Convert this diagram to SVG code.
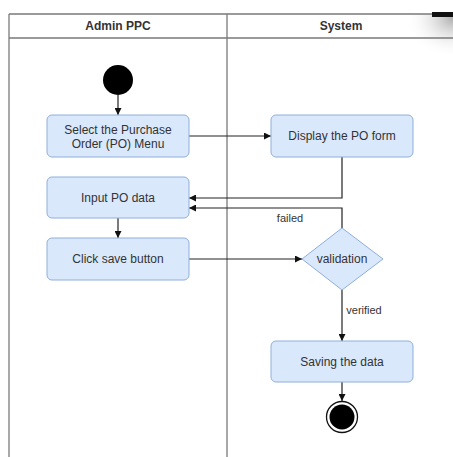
<svg xmlns="http://www.w3.org/2000/svg" width="453" height="457" viewBox="0 0 453 457">
<defs>
<style>
.lane{fill:none;stroke:#7a7a7a;stroke-width:1.3}
.hdr{font-family:"Liberation Sans",Arial,sans-serif;font-size:12px;font-weight:bold;fill:#333;text-anchor:middle}
.act{fill:#dae8fc;stroke:#8faedc;stroke-width:1}
.lbl{font-family:"Liberation Sans",Arial,sans-serif;font-size:12px;fill:#333;text-anchor:middle}
.small{font-family:"Liberation Sans",Arial,sans-serif;font-size:11px;fill:#333;text-anchor:middle}
.edge{fill:none;stroke:#222;stroke-width:1.2}
</style>
<marker id="ah" viewBox="0 0 10 10" refX="10" refY="5" markerWidth="7" markerHeight="7" orient="auto" markerUnits="userSpaceOnUse">
<path d="M0,0 L10,5 L0,10 z" fill="#111"/>
</marker>
<radialGradient id="shade" cx="1" cy="0.1" r="1">
<stop offset="0" stop-color="#9a9a9a" stop-opacity="0.8"/>
<stop offset="1" stop-color="#ffffff" stop-opacity="0"/>
</radialGradient>
</defs>
<rect x="0" y="0" width="453" height="457" fill="#fff"/>
<rect x="405" y="14" width="48" height="40" fill="url(#shade)"/>
<g id="swimlanes">
<path class="lane" d="M9,14 H432 M9,38 H453 M9,14 V457 M227,14 V457"/>
<rect x="432" y="12" width="21" height="5" fill="#111"/>
<text class="hdr" x="118" y="30">Admin PPC</text>
<text class="hdr" x="341" y="30">System</text>
</g>
<g id="connectors">
<path class="edge" d="M118,95 V115" marker-end="url(#ah)"/>
<path class="edge" d="M189,136 H271" marker-end="url(#ah)"/>
<path class="edge" d="M342,157 V198 H189" marker-end="url(#ah)"/>
<path class="edge" d="M342,228 V208 H189" marker-end="url(#ah)"/>
<text class="small" x="290" y="222">failed</text>
<path class="edge" d="M118,218 V238" marker-end="url(#ah)"/>
<path class="edge" d="M189,259 H302" marker-end="url(#ah)"/>
<path class="edge" d="M342,290 V341" marker-end="url(#ah)"/>
<text class="small" x="364" y="314">verified</text>
<path class="edge" d="M342,382 V401" marker-end="url(#ah)"/>
</g>
<g id="start"><circle cx="118" cy="80" r="15" fill="#000"/></g>
<g id="select-po-menu">
<rect class="act" x="47" y="115" width="142" height="42" rx="5"/>
<text class="lbl" x="118" y="134">Select the Purchase</text>
<text class="lbl" x="118" y="148">Order (PO) Menu</text>
</g>
<g id="display-po-form">
<rect class="act" x="271" y="115" width="142" height="42" rx="5"/>
<text class="lbl" x="342" y="140">Display the PO form</text>
</g>
<g id="input-po-data">
<rect class="act" x="47" y="177" width="142" height="41" rx="5"/>
<text class="lbl" x="118" y="202">Input PO data</text>
</g>
<g id="click-save">
<rect class="act" x="47" y="238" width="142" height="42" rx="5"/>
<text class="lbl" x="118" y="263">Click save button</text>
</g>
<g id="validation">
<path class="act" d="M342,228 L383,259 L342,290 L302,259 Z"/>
<text class="lbl" x="342" y="263">validation</text>
</g>
<g id="saving-data">
<rect class="act" x="271" y="341" width="142" height="41" rx="5"/>
<text class="lbl" x="342" y="366">Saving the data</text>
</g>
<g id="end">
<circle cx="342" cy="417" r="15.5" fill="#fff" stroke="#111" stroke-width="1.3"/>
<circle cx="342" cy="417" r="12.5" fill="#000"/>
</g>
</svg>
